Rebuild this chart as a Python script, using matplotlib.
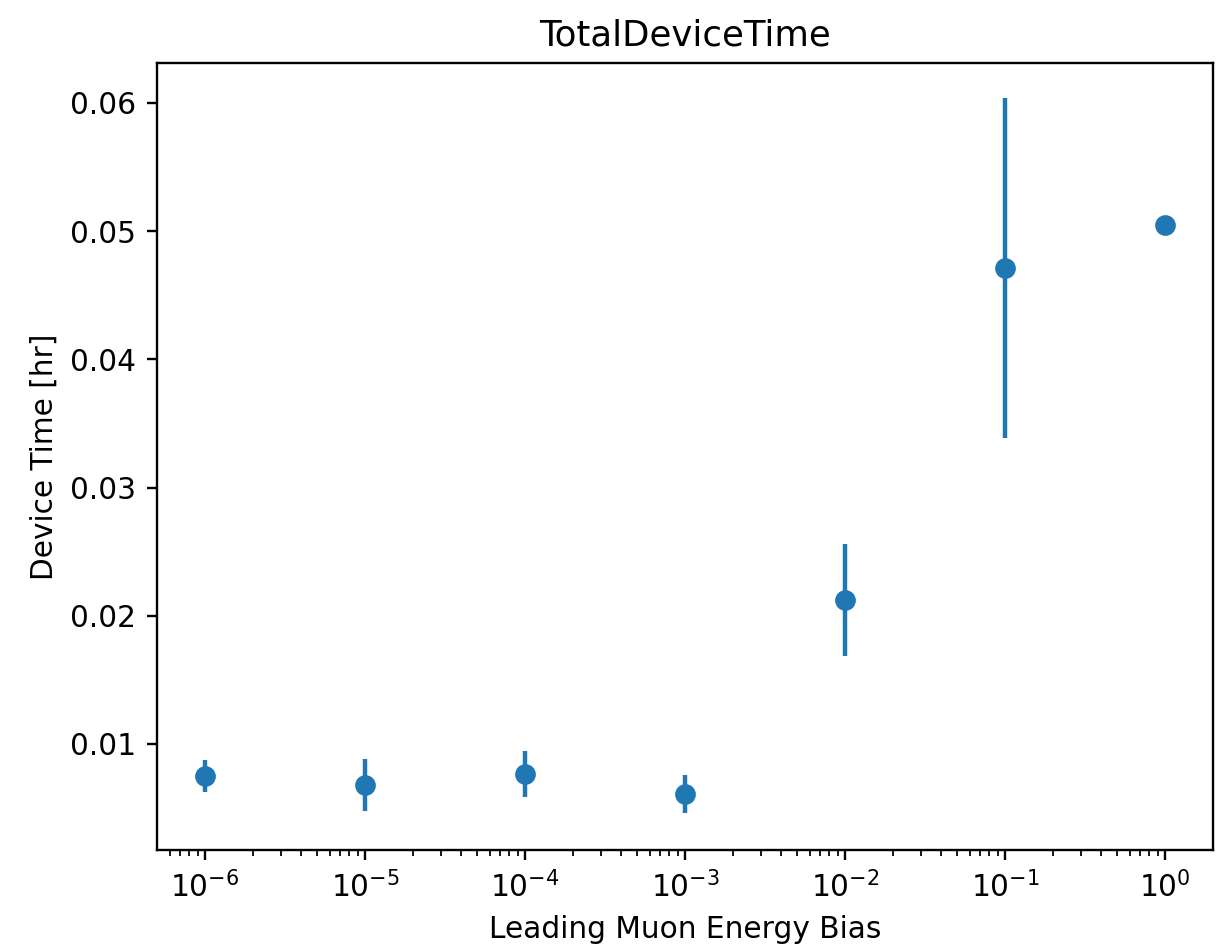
import matplotlib
matplotlib.use("Agg")
import matplotlib.pyplot as plt
import numpy as np

bias = [1e-6, 1e-5, 1e-4, 1e-3, 1e-2, 1e-1, 1e0]
device_time = [0.0075, 0.0068, 0.00765, 0.0061, 0.02125, 0.04715, 0.05048]
device_err = [0.00128, 0.0020, 0.00178, 0.00148, 0.00435, 0.01325, 0.0]

DPI = 213
fig = plt.figure(figsize=(1225 / DPI, 951 / DPI), dpi=DPI)
ax = fig.add_axes([157 / 1225, 1 - 850 / 951, (1213 - 157) / 1225, (850 - 63) / 951])
ax.errorbar(bias, device_time, yerr=device_err, fmt='o', color='#1f77b4')
ax.set_xscale('log')
ax.set_ylim(0.00173, 0.06312)
ax.set_title("TotalDeviceTime")
ax.set_xlabel("Leading Muon Energy Bias")
ax.set_ylabel("Device Time [hr]")
fig.savefig("out.png", dpi=DPI)
